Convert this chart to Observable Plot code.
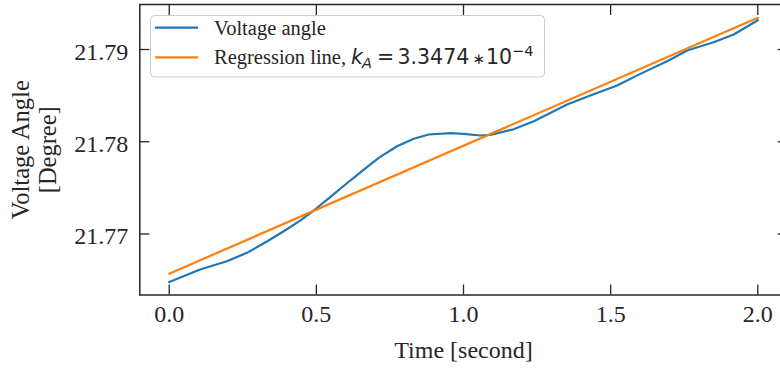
<!DOCTYPE html>
<html><head><meta charset="utf-8">
<script src="https://cdn.jsdelivr.net/npm/d3@7"></script>
<script src="https://cdn.jsdelivr.net/npm/@observablehq/plot@0.6"></script>
<style>
body{margin:0;background:#fff;}
#wrap{position:relative;width:780px;height:369px;overflow:hidden;background:#fff;}
#wrap svg.legend{position:absolute;left:0;top:0;pointer-events:none;}
</style></head><body><div id="wrap"></div>
<script>
// ---- data ----
const timeSec = [0, 0.105, 0.196, 0.264, 0.332, 0.389, 0.445, 0.491, 0.547, 0.615, 0.672, 0.712, 0.774, 0.831, 0.882, 0.955, 1.0, 1.057, 1.091, 1.170, 1.239, 1.352, 1.431, 1.522, 1.601, 1.692, 1.760, 1.850, 1.918, 2.0];
const voltageAngle = [21.7648, 21.76615, 21.76705, 21.76796, 21.76919, 21.7703, 21.77146, 21.77255, 21.77399, 21.7758, 21.77724, 21.77826, 21.77952, 21.78032, 21.78079, 21.78093, 21.78086, 21.78068, 21.78075, 21.78135, 21.78222, 21.78404, 21.78501, 21.7861, 21.78736, 21.78873, 21.78989, 21.79079, 21.79163, 21.79318];
const regTime = [0, 2];
const regAngle = [21.7657, 21.79345];
const xTicks = [0, 0.5, 1.0, 1.5, 2.0];
const yTicks = [21.77, 21.78, 21.79];
const xDomain = [-0.1, 2.1];
const yDomain = [21.76339, 21.79488];
const xLabel = "Time [second]";
const yLabel = "Voltage Angle\n[Degree]";
const seriesNames = ["Voltage angle", "Regression line, "];
const slopeText = "3.3474";
const expText = "\u22124";
const colors = ["#1f77b4", "#ff7f0e"];
const ink = "#262626";

const series = timeSec.map((t, i) => ({t, v: voltageAngle[i]}));
const reg = regTime.map((t, i) => ({t, v: regAngle[i]}));

const W = 780, H = 369;
const chart = Plot.plot({
  width: W, height: H,
  marginLeft: 139.3, marginRight: -6.7, marginTop: 4, marginBottom: 74.5,
  style: {fontFamily: "'Liberation Serif', 'Times New Roman', serif", fontSize: "24px", color: ink, background: "white"},
  x: {domain: xDomain},
  y: {domain: yDomain},
  marks: [
    Plot.line(series, {x: "t", y: "v", stroke: colors[0], strokeWidth: 2.2}),
    Plot.line(reg, {x: "t", y: "v", stroke: colors[1], strokeWidth: 2.2}),
    Plot.frame({stroke: ink, strokeWidth: 1.5}),
    Plot.axisX(xTicks, {anchor: "bottom", tickSize: -10, fill: "none", stroke: ink, strokeWidth: 1.3, label: null}),
    Plot.axisX(xTicks, {anchor: "top", tickSize: -10, fill: "none", stroke: ink, strokeWidth: 1.3, label: null}),
    Plot.axisY(yTicks, {anchor: "left", tickSize: -10, fill: "none", stroke: ink, strokeWidth: 1.3, label: null}),
    Plot.axisY(yTicks, {anchor: "right", tickSize: -10, fill: "none", stroke: ink, strokeWidth: 1.3, label: null}),
    Plot.axisX(xTicks, {anchor: "bottom", tickSize: 0, tickPadding: 10, tickFormat: d3.format(".1f"), label: null, fill: ink, fontSize: 24}),
    Plot.axisY(yTicks, {anchor: "left", tickSize: 0, tickPadding: 11.5, tickFormat: d3.format(".2f"), label: null, fill: ink, fontSize: 24, dy: 2.5}),
    Plot.text([yLabel], {text: d => d, frameAnchor: "left", textAnchor: "middle", rotate: -90, dx: -105.8, lineAnchor: "middle", lineHeight: 1.1, fontSize: 24.5, fill: ink}),
    Plot.text([xLabel], {text: d => d, frameAnchor: "bottom", dy: 55.8, lineAnchor: "middle", fontSize: 24, fill: ink})
  ]
});
const wrap = document.getElementById("wrap");
wrap.appendChild(chart);

// ---- legend (inside the axes, upper left) ----
const lg = d3.select(wrap).append("svg").attr("class", "legend").attr("width", W).attr("height", H);
lg.append("rect").attr("x", 150.5).attr("y", 15.5).attr("width", 394).attr("height", 61.5).attr("rx", 4)
  .attr("fill", "white").attr("fill-opacity", 0.8).attr("stroke", "#cccccc").attr("stroke-width", 1);
const rows = [{y: 27.7, base: 35.2}, {y: 57.3, base: 64}];
rows.forEach((r, i) => {
  lg.append("line").attr("x1", 155).attr("x2", 198).attr("y1", r.y).attr("y2", r.y)
    .attr("stroke", colors[i]).attr("stroke-width", 2.2);
  lg.append("text").attr("x", 214).attr("y", r.base).attr("fill", ink)
    .style("font-family", "'Liberation Serif', 'Times New Roman', serif").style("font-size", "20.5px")
    .text(seriesNames[i]);
});
const m = lg.append("text").attr("y", 64).attr("fill", ink)
  .style("font-family", "'DejaVu Sans', sans-serif").style("font-size", "20.5px");
m.append("tspan").attr("x", 351).style("font-style", "italic").text("k");
m.append("tspan").attr("x", 362).attr("dy", 4).style("font-style", "italic").style("font-size", "14.5px").text("A");
m.append("tspan").attr("x", 377).attr("dy", -4).text("=");
m.append("tspan").attr("x", 397.5).text(slopeText);
m.append("tspan").attr("x", 472.5).style("font-size", "15px").text("\u2217");
m.append("tspan").attr("x", 486).text("10");
m.append("tspan").attr("x", 512).attr("dy", -8).style("font-size", "14.5px").text(expText);
</script></body></html>
